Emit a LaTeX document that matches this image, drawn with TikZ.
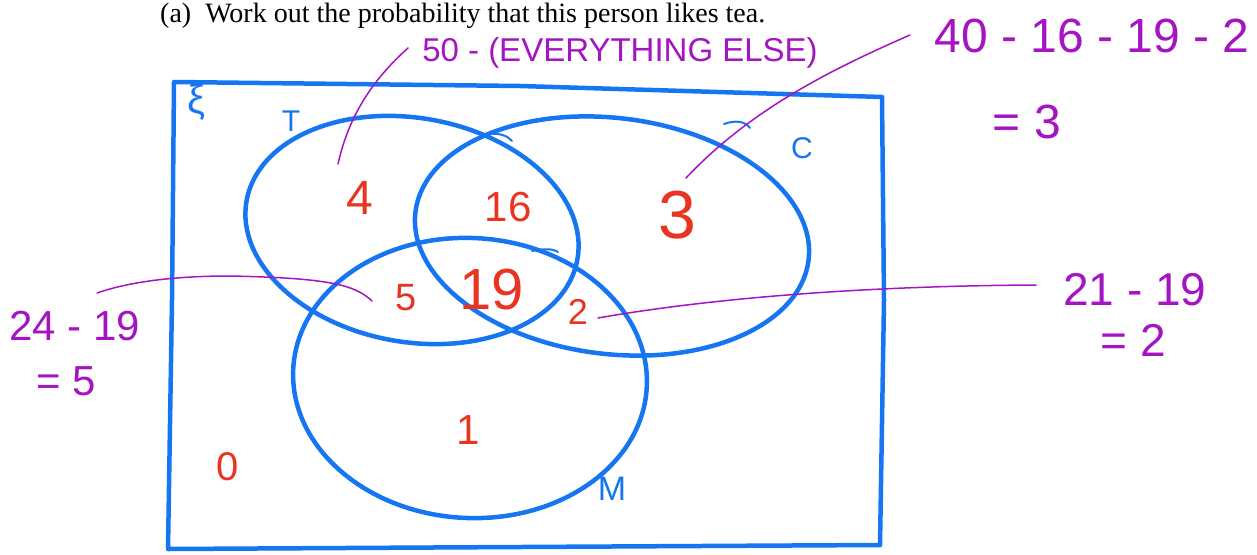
\documentclass[tikz,border=0pt]{standalone}
\usepackage{fontspec}
\setmainfont{Liberation Serif}
\newfontfamily\hand{Liberation Sans}
\definecolor{pen}{RGB}{22,118,242}
\definecolor{ink}{RGB}{232,52,32}
\definecolor{viol}{RGB}{165,20,195}
\tikzset{
  setline/.style={draw=pen,line width=4.5pt,line cap=round,line join=round},
  hook/.style={draw=pen,line width=2pt,line cap=round},
  num/.style={text=ink,font=\hand,inner sep=0pt},
  note/.style={text=viol,font=\hand,inner sep=0pt},
  lead/.style={draw=viol,line width=1.5pt,line cap=round},
  setname/.style={text=pen,font=\hand,inner sep=0pt}
}
\begin{document}
\begin{tikzpicture}[x=1pt,y=-1pt]
\useasboundingbox (0,0) rectangle (1257,554);
% question line
\node[anchor=base west,inner sep=0pt,font=\fontsize{28}{30}\selectfont] (q) at (160,22) {(a)\ \ Work out the probability that this person likes tea.};
% universal set
\draw[setline] (174,82) -- (520,86) -- (882,97) -- (884,300) -- (880,545) -- (520,547) -- (168,549) -- (172,300) -- cycle;
% ellipses
\draw[setline] [rotate around={-10:(412,230)}] (412,230) ellipse [x radius=168pt, y radius=112pt];
\draw[setline] [rotate around={-7:(612,236)}] (612,236) ellipse [x radius=198pt, y radius=118pt];
\draw[setline] [rotate around={-3:(470,378)}] (470,378) ellipse [x radius=177pt, y radius=140pt];
% pen hooks
\coordinate (h1a) at (490,134); \coordinate (h1b) at (512,141);
\coordinate (h2a) at (724,124); \coordinate (h2b) at (750,128);
\coordinate (h3a) at (532,251); \coordinate (h3b) at (558,252);
\draw[hook] (h1a) .. controls (500,133) and (508,136) .. (h1b);
\draw[hook] (h2a) .. controls (735,120) and (745,121) .. (h2b);
\draw[hook] (h3a) .. controls (542,249) and (552,248) .. (h3b);
% set names
\node[setname,font=\hand\fontsize{40}{40}\selectfont] (xi) at (196,102) {ξ};
\node[setname,font=\hand\fontsize{30}{30}\selectfont] (t) at (291,121) {T};
\node[setname,font=\hand\fontsize{30}{30}\selectfont] (c) at (802,148) {C};
\node[setname,font=\hand\fontsize{34}{34}\selectfont] (m) at (612,489) {M};
% region counts
\node[num,font=\hand\fontsize{48}{48}\selectfont] (n4) at (360,198) {4};
\node[num,font=\hand\fontsize{42}{42}\selectfont] (n16) at (508,207) {16};
\node[num,font=\hand\fontsize{68}{68}\selectfont] (n3) at (677,215) {3};
\node[num,font=\hand\fontsize{38}{38}\selectfont] (n5) at (406,298) {5};
\node[num,font=\hand\fontsize{58}{58}\selectfont] (n19) at (492,290) {19};
\node[num,font=\hand\fontsize{36}{36}\selectfont] (n2) at (578,312) {2};
\node[num,font=\hand\fontsize{42}{42}\selectfont] (n1) at (468,430) {1};
\node[num,font=\hand\fontsize{40}{40}\selectfont] (n0) at (228,467) {0};
% working notes
\node[note,font=\hand\fontsize{33}{34}\selectfont] (w1) at (620,53) {50 - (EVERYTHING ELSE)};
\node[note,font=\hand\fontsize{48}{48}\selectfont] (w2) at (1092,36) {40 - 16 - 19 - 2};
\node[note,font=\hand\fontsize{48}{48}\selectfont] (w2b) at (1027,122) {= 3};
\node[note,font=\hand\fontsize{42}{42}\selectfont] (w3) at (75,326) {24 - 19};
\node[note,font=\hand\fontsize{42}{42}\selectfont] (w3b) at (66,381) {= 5};
\node[note,font=\hand\fontsize{46}{46}\selectfont] (w4) at (1135,290) {21 - 19};
\node[note,font=\hand\fontsize{46}{46}\selectfont] (w4b) at (1133,340) {= 2};
% leader lines
\coordinate (a1) at (338,164); \coordinate (b1) at (408,48);
\coordinate (a2) at (686,178); \coordinate (b2) at (910,35);
\coordinate (a3) at (372,301); \coordinate (b3) at (97,293);
\coordinate (a4) at (598,318); \coordinate (b4) at (1036,285);
\draw[lead] (a1) .. controls (350,110) and (378,75) .. (b1);
\draw[lead] (a2) .. controls (750,110) and (830,70) .. (b2);
\draw[lead] (a3) .. controls (355,285) and (330,278) .. (230,276) .. controls (160,276) and (120,285) .. (b3);
\draw[lead] (a4) .. controls (700,300) and (850,286) .. (b4);
\end{tikzpicture}
\end{document}
